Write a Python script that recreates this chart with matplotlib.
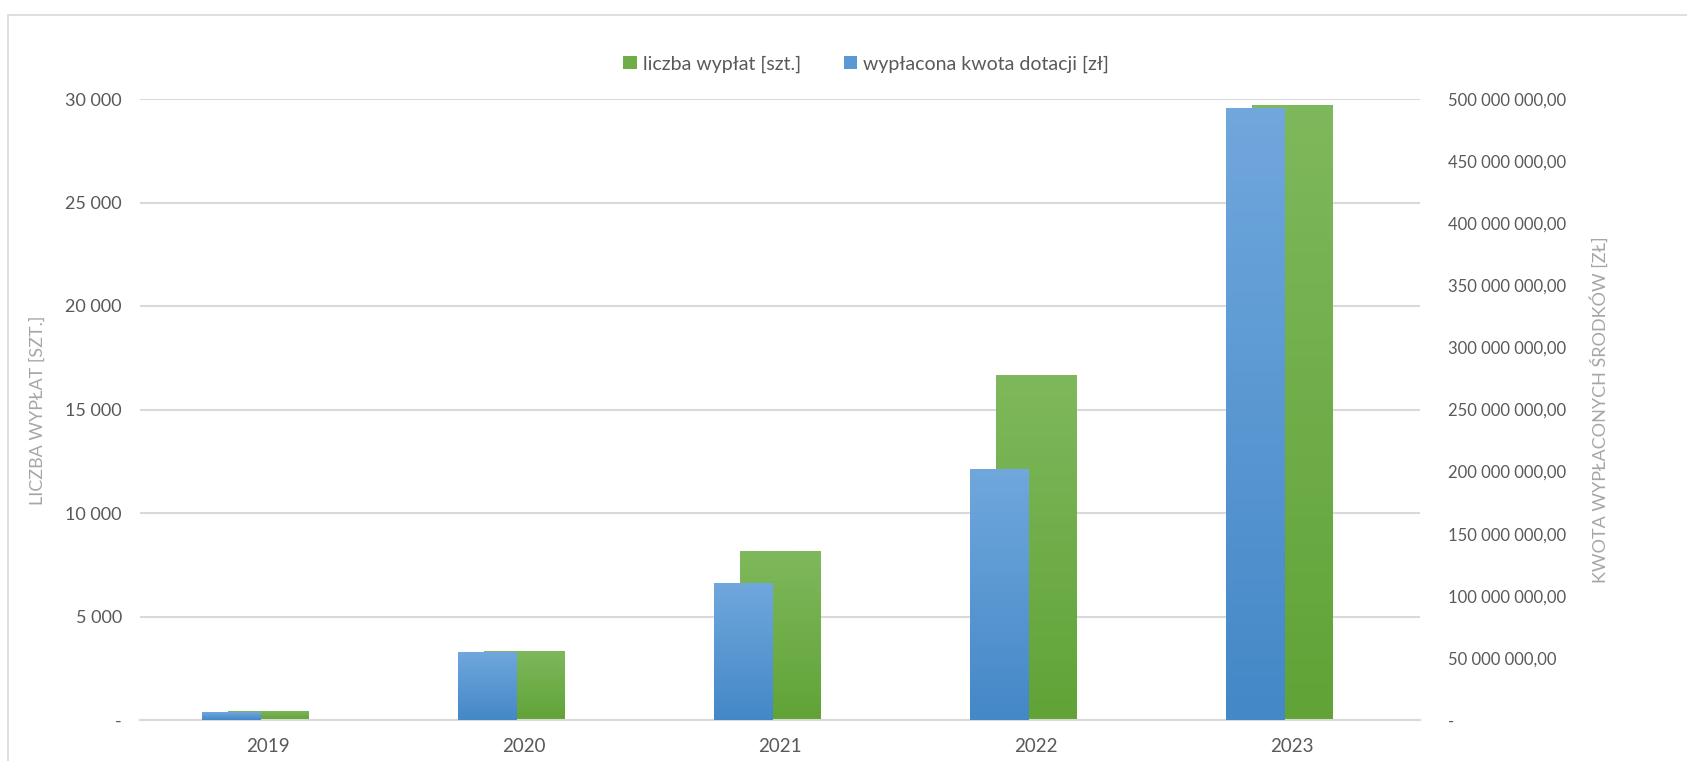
import matplotlib.pyplot as plt
import numpy as np
from matplotlib.patches import Rectangle
from matplotlib.colors import LinearSegmentedColormap
from matplotlib.ticker import FuncFormatter

years = ['2019', '2020', '2021', '2022', '2023']
liczba_wyplat = [450, 3350, 8150, 16650, 29700]  # szt.
kwota_dotacji = [6.4e6, 55e6, 110e6, 202e6, 493e6]  # zł

GREEN = '#6FAD47'
BLUE = '#5A9AD4'
GRID = '#D9D9D9'
TXT = '#595959'

plt.rcParams['font.family'] = ['Lato', 'DejaVu Sans']

fig = plt.figure(figsize=(16.87, 7.61), dpi=100)
ax = fig.add_axes([140 / 1687, 41 / 761, 1280 / 1687, 621 / 761])
ax2 = ax.twinx()

x = np.arange(len(years))
g_bars = ax.bar(x, liczba_wyplat, width=0.316, color=GREEN, label='liczba wypłat [szt.]', zorder=2)
b_bars = ax2.bar(x - 0.144, kwota_dotacji, width=0.23, color=BLUE, label='wypłacona kwota dotacji [zł]', zorder=2)

ax.set_xlim(-0.5, len(years) - 0.5)
ax.set_ylim(0, 30000)
ax2.set_ylim(0, 500e6)
ax.set_yticks(np.arange(0, 30001, 5000))
ax2.set_yticks(np.arange(0, 500e6 + 1, 50e6))
ax.set_xticks(x)
ax.set_xticklabels(years)

# gradient fill like the excel bars
grad = np.linspace(0, 1, 100).reshape(-1, 1)
cm_g = LinearSegmentedColormap.from_list('g', ['#61A337', '#7EB85C'])
cm_b = LinearSegmentedColormap.from_list('b', ['#4488C7', '#70A7DD'])
for a, bars, cm in ((ax, g_bars, cm_g), (ax2, b_bars, cm_b)):
    for b in bars:
        x0, w, h = b.get_x(), b.get_width(), b.get_height()
        im = a.imshow(grad, cmap=cm, origin='lower', extent=(x0, x0 + w, 0, h), aspect='auto', zorder=2.1)
        im.set_clip_path(b)
ax.set_xlim(-0.5, len(years) - 0.5)
ax.set_ylim(0, 30000)
ax2.set_ylim(0, 500e6)


def fmt_left(v, pos):
    if v == 0:
        return '-'
    return '{:,.0f}'.format(v).replace(',', ' ')


def fmt_right(v, pos):
    if v == 0:
        return '-'
    return '{:,.2f}'.format(v).replace(',', ' ').replace('.', ',')


ax.yaxis.set_major_formatter(FuncFormatter(fmt_left))
ax2.yaxis.set_major_formatter(FuncFormatter(fmt_right))

ax.set_axisbelow(True)
ax.yaxis.grid(True, color=GRID, lw=1.5)
for a in (ax, ax2):
    for s in a.spines.values():
        s.set_visible(False)
    a.tick_params(length=0, labelcolor=TXT)
ax.spines['bottom'].set_visible(True)
ax.spines['bottom'].set_color(GRID)
ax.spines['bottom'].set_linewidth(1.5)
ax.tick_params(axis='y', pad=13, labelsize=13)
ax.tick_params(axis='x', pad=13, labelsize=13.5)
ax2.tick_params(axis='y', pad=20, labelsize=12)

fig.text(38 / 1687, 1 - 410 / 761, 'LICZBA WYPŁAT [SZT.]', rotation=90, ha='center', va='center',
         color='#A6A6A6', fontsize=13)
fig.text(1599 / 1687, 1 - 410 / 761, 'KWOTA WYPŁACONYCH ŚRODKÓW [ZŁ]', rotation=90, ha='center', va='center',
         color='#A6A6A6', fontsize=13)

h1, l1 = ax.get_legend_handles_labels()
h2, l2 = ax2.get_legend_handles_labels()
fig.legend(h1 + h2, l1 + l2, loc='center', bbox_to_anchor=(866 / 1687, 1 - 64 / 761), ncol=2, frameon=False,
           fontsize=14, labelcolor=TXT, handlelength=0.7, handleheight=0.7, handletextpad=0.3, columnspacing=2.2)

# chart frame
fig.patches.append(Rectangle((8 / 1687, -0.1), 1.1, 1.1 - 15 / 761, transform=fig.transFigure,
                             fill=False, edgecolor=GRID, lw=1.2))

fig.savefig('out.png', dpi=100)
